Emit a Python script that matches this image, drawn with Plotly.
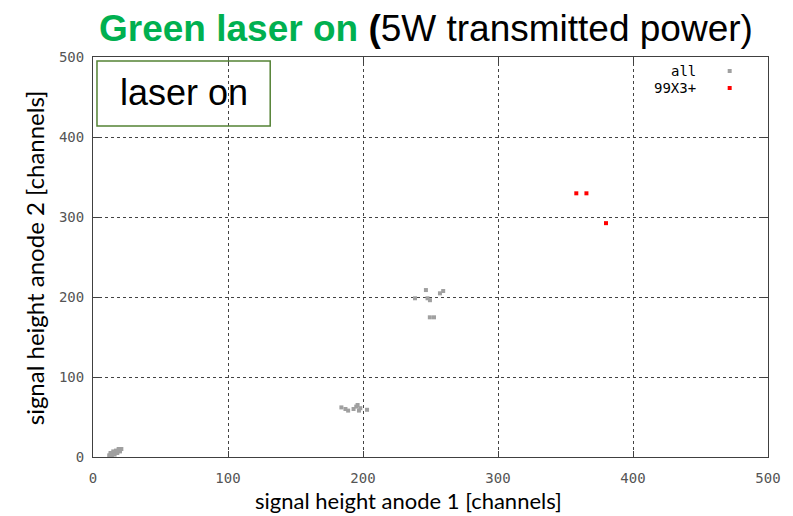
import plotly.graph_objects as go

# ---- data ----
all_x = [12, 13, 14, 15, 16, 17, 18, 19, 20, 21, 13, 15, 17, 19, 14, 16, 18, 20,
         184, 187, 189, 193, 195, 196, 197, 198, 203,
         238.5, 246.6, 247.8, 249.6, 257, 259.4, 249.5, 252.6]
all_y = [2, 3, 4, 4, 5, 6, 7, 8, 9, 10, 5, 7, 8, 10, 2, 3, 5, 7,
         62, 60, 58, 60, 63, 65, 58, 61, 59,
         198.4, 208.7, 198.4, 196, 204.6, 207.5, 174.6, 174.6]
sel_x = [358, 365.5, 380]
sel_y = [329.6, 329.6, 292.3]
x_ticks = [0, 100, 200, 300, 400, 500]
y_ticks = [0, 100, 200, 300, 400, 500]
series_names = ["all", "99X3+"]
series_colors = ["#a0a0a0", "#ff0000"]

W, H = 793, 516
L, R, T, B = 93, 22, 57, 59
PW, PH = W - L - R, H - T - B


def px(xp):
    return (xp - L) / PW


def py(yp):
    return (H - B - yp) / PH


fig = go.Figure()
fig.add_trace(go.Scatter(x=all_x, y=all_y, mode="markers", name=series_names[0],
                         marker=dict(symbol="square", size=4, color=series_colors[0],
                                     line=dict(width=0))))
fig.add_trace(go.Scatter(x=sel_x, y=sel_y, mode="markers", name=series_names[1],
                         marker=dict(symbol="square", size=4, color=series_colors[1],
                                     line=dict(width=0))))

axis_common = dict(
    range=[0, 500], showgrid=True, gridcolor="#444444", griddash="dot", gridwidth=1,
    zeroline=False, showline=True, linecolor="#404040", linewidth=1, mirror="ticks",
    ticks="inside", ticklen=6, tickcolor="#404040", tickmode="array",
    tickfont=dict(family="DejaVu Sans Mono", size=14, color="#555555"),
)
fig.update_xaxes(**axis_common, tickvals=x_ticks, ticktext=[str(v) for v in x_ticks],
                 ticklabelstandoff=8)
fig.update_yaxes(**axis_common, tickvals=y_ticks, ticktext=[str(v) for v in y_ticks],
                 ticklabelstandoff=5)

annotations = [
    dict(text="<b><span style='color:#00b050'>Green laser on</span> (</b>5W transmitted power)",
         x=px(97), y=py(29), xanchor="left", yanchor="middle",
         font=dict(family="Liberation Sans, Arial", size=37, color="#000000")),
    dict(text="laser on", x=px(184), y=py(93), xanchor="center", yanchor="middle",
         font=dict(family="Liberation Sans, Arial", size=36, color="#000000")),
    dict(text="signal height anode 1 [channels]", x=px(410), y=py(500),
         xanchor="center", yanchor="middle",
         font=dict(family="Lato", size=22, color="#000000")),
    dict(text="signal height anode 2 [channels]", x=px(34), y=py(258),
         xanchor="center", yanchor="middle", textangle=-90,
         font=dict(family="Lato", size=24, color="#000000")),
]
leg_y = [71, 88]
for name, yy in zip(series_names, leg_y):
    annotations.append(dict(text=name, x=px(701), y=py(yy), xanchor="right", yanchor="middle",
                            font=dict(family="DejaVu Sans Mono", size=14, color="#000000")))
for a in annotations:
    a.update(xref="paper", yref="paper", showarrow=False)

shapes = [
    dict(type="rect", xref="paper", yref="paper", x0=px(97), x1=px(271), y0=py(126), y1=py(61),
         line=dict(color="#548235", width=1.5)),
]
for c, yy in zip(series_colors, leg_y):
    shapes.append(dict(type="rect", xref="paper", yref="paper",
                       x0=px(730.5), x1=px(734.5), y0=py(yy + 2), y1=py(yy - 2),
                       line=dict(width=0), fillcolor=c))

fig.update_layout(
    width=W, height=H, margin=dict(l=L, r=R, t=T, b=B),
    paper_bgcolor="white", plot_bgcolor="white", showlegend=False,
    annotations=annotations, shapes=shapes,
)
fig.write_html("out.html")
